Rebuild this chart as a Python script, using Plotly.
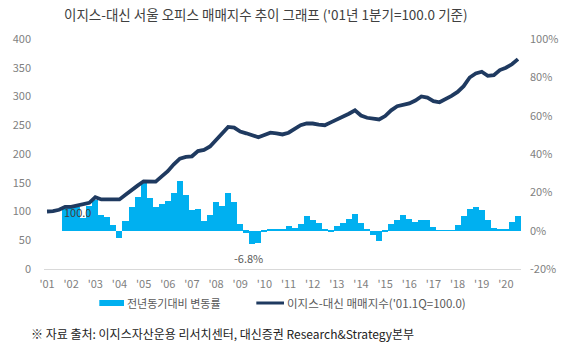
import plotly.graph_objects as go

# ---------------- data ----------------
years = [f"'{y:02d}" for y in range(1, 21)]
quarters = [f"{2000 + y}Q{q}" for y in range(1, 21) for q in range(1, 5)][:79]

index_values = [
    100, 100.5, 103, 108, 108, 110, 112, 115, 125, 121,
    121, 121, 121, 129, 138, 145, 152.5, 152.5, 152, 161,
    170, 182, 192, 195, 196, 205, 207, 213, 225, 237,
    247, 246, 239, 236, 232, 229, 233, 237, 236, 234,
    237, 244, 250, 253, 253, 251, 250, 255, 260, 264,
    270, 276, 267, 263, 261, 260, 266, 276, 283, 286,
    288, 293, 300, 298, 292, 290, 295, 301, 308, 318,
    333, 340, 343, 336, 337, 346, 350, 356, 365,
]

yoy_quarters = quarters[3:]
yoy_values = [
    12.5, 12.5, 12.5, 6.6, 12.7, 16.2, 8.4, 7.2, 3.0, -4.0,
    5.0, 12.4, 17.8, 25.3, 17.3, 12.6, 13.8, 15.5, 19.8, 25.9,
    18.4, 11.0, 11.3, 5.0, 8.0, 15.0, 13.0, 19.8, 15.0, 3.4,
    -1.0, -6.8, -6.6, -0.2, 1.0, 1.0, 1.0, 2.6, 1.4, 3.5,
    7.5, 5.8, 4.0, 1.0, -0.3, 2.2, 4.0, 6.0, 8.8, 4.0,
    0.5, -2.0, -5.5, -0.6, 3.7, 5.8, 8.4, 6.1, 4.4, 5.4,
    5.4, 1.9, 0.3, 0.3, 0.3, 3.1, 7.9, 11.3, 12.4, 11.0,
    5.8, 1.4, 0.9, 0.7, 4.4, 7.9,
]

tick_positions = quarters[::4]
left_ticks = [0, 50, 100, 150, 200, 250, 300, 350, 400]
right_ticks = [-20, 0, 20, 40, 60, 80, 100]
right_labels = [f"{v}%" for v in right_ticks]

BAR_COLOR = "#00B0F0"
LINE_COLOR = "#1F3A60"
GREY = "#7F7F7F"
FONT = "Noto Sans CJK KR"

W, H = 570, 352
L, R, T, B = 44, 527, 39, 269  # plot area in pixels


def px(x):
    return (x - L) / (R - L)


def py(y):
    return (B - y) / (B - T)


fig = go.Figure()

fig.add_trace(go.Bar(
    x=yoy_quarters, y=yoy_values, yaxis="y",
    marker=dict(color=BAR_COLOR, line=dict(width=0)),
    name="전년동기대비 변동률", showlegend=False,
))

fig.add_trace(go.Scatter(
    x=quarters, y=index_values, yaxis="y2", mode="lines",
    line=dict(color=LINE_COLOR, width=3.8),
    name="이지스-대신 매매지수('01.1Q=100.0)", showlegend=False,
))


def note(text, x, y, size, color, xanchor="center"):
    return dict(text=text, x=px(x), y=py(y), xref="paper", yref="paper",
                xanchor=xanchor, yanchor="middle", showarrow=False,
                font=dict(family=FONT, size=size, color=color))


annotations = [
    note("이지스-대신 서울 오피스 매매지수 추이 그래프 ('01년 1분기=100.0 기준)",
         269, 14, 13.5, "#404040"),
    dict(text="100.0", x=quarters[5], y=index_values[0], xref="x", yref="y2",
         xanchor="center", yanchor="middle",
         showarrow=False, font=dict(family=FONT, size=11, color="#404040")),
    dict(text="-6.8%", x=quarters[34], y=-6.8, xref="x", yref="y", yshift=-14,
         xshift=-4, xanchor="center", yanchor="middle",
         showarrow=False, font=dict(family=FONT, size=11, color="#595959")),
    note("전년동기대비 변동률", 126, 303, 11, "#595959", "left"),
    note("이지스-대신 매매지수('01.1Q=100.0)", 288, 303, 11.5, "#595959", "left"),
    note("※ 자료 출처: 이지스자산운용 리서치센터, 대신증권 Research&Strategy본부",
         29, 333, 12, "#222222", "left"),
]

shapes = [
    dict(type="rect", xref="paper", yref="paper", x0=px(100), x1=px(125),
         y0=py(306), y1=py(300), fillcolor=BAR_COLOR, line=dict(width=0)),
    dict(type="line", xref="paper", yref="paper", x0=px(259), x1=px(287),
         y0=py(303), y1=py(303), line=dict(color=LINE_COLOR, width=3)),
]

fig.update_layout(
    width=W, height=H,
    margin=dict(l=L, r=W - R, t=T, b=H - B, pad=0),
    paper_bgcolor="white", plot_bgcolor="white",
    bargap=0,
    font=dict(family=FONT, size=11, color=GREY),
    xaxis=dict(
        type="category", categoryorder="array", categoryarray=quarters,
        range=[-0.5, 78.5], tickmode="array", tickvals=tick_positions, ticktext=years,
        showgrid=False, showline=True, linecolor="#D9D9D9", linewidth=1,
        ticks="", ticklabelstandoff=5, tickfont=dict(size=11, color=GREY),
        zeroline=False,
    ),
    yaxis=dict(
        side="right", range=[-20, 100], tickmode="array", tickvals=right_ticks,
        ticktext=right_labels, showgrid=False, zeroline=False, showline=False,
        ticks="", ticklabelstandoff=8, tickfont=dict(size=11, color=GREY),
    ),
    yaxis2=dict(
        side="left", overlaying="y", range=[0, 400], tickmode="array", tickvals=left_ticks,
        showgrid=False, zeroline=False, showline=False,
        ticks="", ticklabelstandoff=12, tickfont=dict(size=11, color=GREY),
    ),
    annotations=annotations,
    shapes=shapes,
)

fig.write_html("out.html")
